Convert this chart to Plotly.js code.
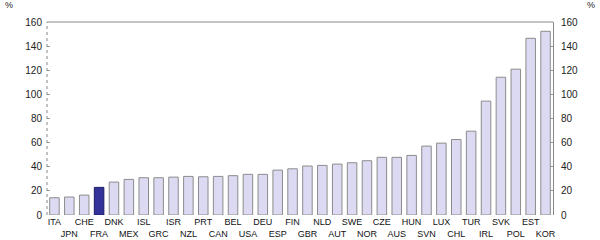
<!DOCTYPE html>
<html>
<head>
<meta charset="utf-8">
<script src="https://cdn.plot.ly/plotly-3.0.1.min.js"></script>
<style>html,body{margin:0;padding:0;background:#fff;}#chart{width:600px;height:240px;}</style>
</head>
<body>
<div id="chart"></div>
<script>
const countries = ["ITA","JPN","CHE","FRA","DNK","MEX","ISL","GRC","ISR","NZL","PRT","CAN","BEL","USA","DEU","ESP","FIN","GBR","NLD","AUT","SWE","NOR","CZE","AUS","HUN","SVN","LUX","CHL","TUR","IRL","SVK","POL","EST","KOR"];
const values = [14.3,14.9,16.5,22.9,27.3,29.5,30.9,30.9,31.4,32.0,31.7,32.0,32.6,33.7,33.7,37.2,38.3,40.6,41.1,42.2,43.3,45.0,47.8,47.8,49.4,57.1,59.6,62.6,69.5,94.4,114.2,120.9,146.5,152.3];
const highlight = "FRA";
const yTicks = [0,20,40,60,80,100,120,140,160];

const fills = countries.map(c => c === highlight ? "#333399" : "#dcdaf2");
const lines = countries.map(c => c === highlight ? "#1a1a66" : "#8c8c8c");
const tickText = countries.map((c,i) => i % 2 === 0 ? c : "<br>" + c);

const xfont = {family: "Liberation Sans Narrow, Arial, sans-serif", size: 9, color: "#111"};
const yfont = {family: "Arial, sans-serif", size: 10, color: "#222"};

const traces = [
  {type: "bar", x: countries, y: values, marker: {color: fills, line: {color: lines, width: 1}}, hoverinfo: "skip", yaxis: "y"},
  {type: "scatter", mode: "markers", x: countries, y: values, marker: {opacity: 0}, hoverinfo: "skip", yaxis: "y2", showlegend: false}
];

const layout = {
  width: 600, height: 240,
  margin: {l: 47, r: 47, t: 22, b: 25},
  paper_bgcolor: "#fff", plot_bgcolor: "#fff",
  showlegend: false,
  bargap: 0.36,
  font: yfont,
  xaxis: {
    type: "category", tickvals: countries, ticktext: tickText,
    range: [-0.5, countries.length - 0.5], autorange: false,
    showgrid: false, zeroline: false, showline: false, ticks: "",
    ticklabelstandoff: 0,
    tickfont: xfont, tickangle: 0, fixedrange: true
  },
  yaxis: {
    range: [0, 160], tickvals: yTicks, showgrid: false, zeroline: false,
    showline: false,
    ticks: "inside", ticklen: 3, tickcolor: "#999",
    ticklabelstandoff: 4,
    tickfont: yfont
  },
  yaxis2: {
    range: [0, 160], tickvals: yTicks, overlaying: "y", side: "right",
    showgrid: false, zeroline: false,
    showline: true, linecolor: "#888", linewidth: 1,
    ticks: "inside", ticklen: 3, tickcolor: "#999",
    ticklabelstandoff: 5,
    tickfont: yfont
  },
  shapes: [
    {type: "line", xref: "paper", yref: "paper", x0: 0, x1: 1, y0: 1, y1: 1, line: {color: "#888", width: 1}},
    {type: "line", xref: "paper", yref: "paper", x0: 0, x1: 0, y0: 0, y1: 1, line: {color: "#888", width: 1, dash: "dot"}}
  ],
  annotations: [
    {text: "%", xref: "paper", yref: "paper", x: -0.075, y: 1.09, xanchor: "center", yanchor: "middle", showarrow: false, font: {family: "Arial, sans-serif", size: 9, color: "#222"}},
    {text: "%", xref: "paper", yref: "paper", x: 1.075, y: 1.09, xanchor: "center", yanchor: "middle", showarrow: false, font: {family: "Arial, sans-serif", size: 9, color: "#222"}}
  ]
};

Plotly.newPlot("chart", traces, layout, {displayModeBar: false, staticPlot: true});
</script>
</body>
</html>
